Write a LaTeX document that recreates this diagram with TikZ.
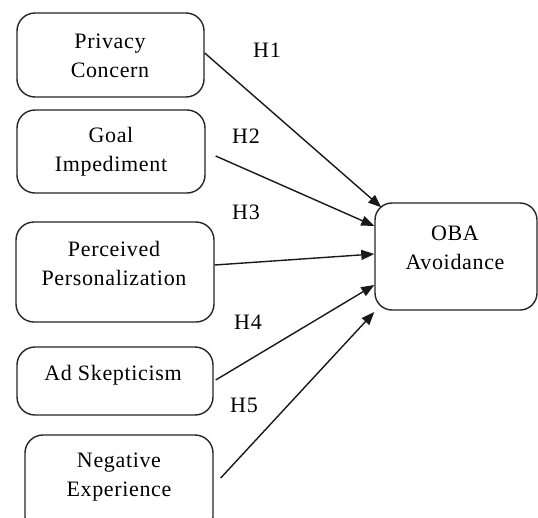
\documentclass[tikz,border=0pt]{standalone}
\usepackage{fontspec}
\setmainfont{Liberation Serif}[LetterSpace=3]
\usetikzlibrary{arrows.meta,calc}
\tikzset{
  box/.style={draw=black!85, line width=1.4pt, rounded corners=18pt, inner sep=0pt},
  txt/.style={font=\fontsize{22}{29}\selectfont, align=center, inner sep=0pt},
  hyp/.style={font=\fontsize{22}{29}\selectfont, inner sep=0pt},
  arr/.style={line width=1.4pt, draw=black!90, -{Triangle[length=13pt,width=10pt]}}
}
\begin{document}
\begin{tikzpicture}[x=1pt,y=-1pt]
\clip (0,0) rectangle (538,517);
\fill[white] (0,0) rectangle (538,517);
% boxes
\node[box, minimum width=187pt, minimum height=84pt] (pc) at (110.5,55) {};
\node[box, minimum width=188pt, minimum height=83pt] (gi) at (111,151.5) {};
\node[box, minimum width=198pt, minimum height=100pt] (pp) at (115,272) {};
\node[box, minimum width=196pt, minimum height=68pt] (as) at (115,381) {};
\node[box, minimum width=188pt, minimum height=100pt] (ne) at (119,485) {};
\node[box, minimum width=162pt, minimum height=107pt, rounded corners=17pt] (oba) at (456,256.5) {};
% texts
\node[txt] (pct) at (110,56) {Privacy\\Concern};
\node[txt] (git) at (111,152) {Goal\\Impediment};
\node[txt] (ppt) at (114,263) {Perceived\\Personalization};
\node[txt] (ast) at (113,375) {Ad Skepticism};
\node[txt] (net) at (119,477.5) {Negative\\Experience};
\node[txt] (obat) at (455,247.5) {OBA\\Avoidance};
% hypothesis labels
\node[hyp] (h1) at (267,50) {H1};
\node[hyp] (h2) at (246,136) {H2};
\node[hyp] (h3) at (246,212) {H3};
\node[hyp] (h4) at (248,322) {H4};
\node[hyp] (h5) at (244,405) {H5};
% arrows
\draw[arr] ([yshift=2pt]pc.east) -- ([xshift=7pt,yshift=-5pt]oba.north west);
\draw[arr] ([xshift=10pt,yshift=-4.5pt]gi.east) -- ([yshift=30.5pt]oba.west);
\draw[arr] ([yshift=7pt]pp.east) -- ([yshift=2.5pt]oba.west);
\draw[arr] ([xshift=2pt,yshift=1pt]as.east) -- ([yshift=-28.5pt]oba.west);
\draw[arr] ([xshift=7pt,yshift=7pt]ne.east) -- ([yshift=-55.5pt]oba.west);
\end{tikzpicture}
\end{document}
